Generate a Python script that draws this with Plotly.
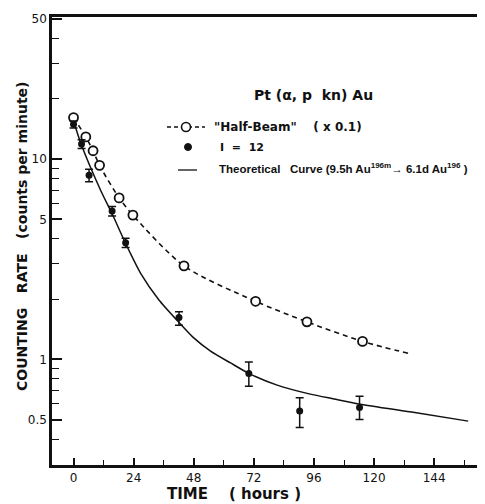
import plotly.graph_objects as go

# --- data ---------------------------------------------------------------
# "Half-Beam" (x 0.1) : open circles
half_beam_hours = [0, 4.9, 7.8, 10.4, 18.2, 23.7, 44.1, 72.7, 93.2, 115.4]
half_beam_rate = [16.1, 12.9, 11.0, 9.3, 6.4, 5.25, 2.93, 1.95, 1.54, 1.23]

# dashed curve drawn through the open circles
half_beam_fit_hours = [0, 4.9, 7.8, 10.4, 18.2, 23.7, 44.1, 72.7, 93.2, 115.4, 134]
half_beam_fit_rate = [16.1, 12.9, 11.0, 9.3, 6.4, 5.25, 2.93, 1.95, 1.54, 1.23, 1.07]

# I = 12 : filled circles with error bars
i12_hours = [0, 3.2, 6.2, 15.4, 20.8, 42.1, 70, 90.3, 114.2]
i12_rate = [14.9, 11.9, 8.3, 5.5, 3.82, 1.62, 0.85, 0.553, 0.575]
i12_err_up = [0.6, 0.6, 0.6, 0.3, 0.2, 0.11, 0.12, 0.09, 0.08]
i12_err_down = [0.6, 0.6, 0.6, 0.3, 0.2, 0.14, 0.115, 0.096, 0.074]

# theoretical curve (9.5h Au196m -> 6.1d Au196)
theory_hours = [0, 2.9, 10.9, 15.5, 20.8, 26.8, 34.1, 42.1, 48.0, 54.7, 62.7, 70,
                81.3, 94.5, 104, 114.5, 135, 157.6]
theory_rate = [15.5, 12.0, 6.95, 5.3, 3.79, 2.69, 1.98, 1.53, 1.28, 1.1, 0.96, 0.851,
               0.744, 0.671, 0.635, 0.598, 0.546, 0.492]

x_ticks = [0, 24, 48, 72, 96, 120, 144]
x_minor = [12, 36, 60, 84, 108, 132, 156]
y_ticks = [0.5, 1, 5, 10, 50]
y_tick_text = ['0.5', '1', '5', '10', '50']
y_minor = [0.4, 0.6, 0.7, 0.8, 0.9, 2, 3, 4, 6, 7, 8, 9, 20, 30, 40]

FONT = 'DejaVu Sans'
INK = '#111111'
PAGE_PAD = 8  # the page body keeps its default 8px margin

fig = go.Figure()

fig.add_trace(go.Scatter(
    x=theory_hours, y=theory_rate, mode='lines',
    line=dict(color=INK, width=1.5, shape='spline', smoothing=0.6),
    showlegend=False, hoverinfo='skip'
))

fig.add_trace(go.Scatter(
    x=half_beam_fit_hours, y=half_beam_fit_rate, mode='lines',
    line=dict(color=INK, width=1.6, dash='5px,4px', shape='spline', smoothing=0.8),
    showlegend=False, hoverinfo='skip'
))

fig.add_trace(go.Scatter(
    x=half_beam_hours, y=half_beam_rate, mode='markers',
    marker=dict(symbol='circle', size=9, color='white', line=dict(color=INK, width=1.8)),
    name='"Half-Beam" (x 0.1)', showlegend=False
))

fig.add_trace(go.Scatter(
    x=i12_hours, y=i12_rate, mode='markers',
    marker=dict(symbol='circle', size=7, color=INK),
    error_y=dict(type='data', symmetric=False, array=i12_err_up, arrayminus=i12_err_down,
                 color=INK, thickness=1.5, width=4),
    name='I = 12', showlegend=False
))

# --- in-plot legend (positions in window pixels -> paper) -------------------
def px_x(px):
    return (px - 52) / 433

def px_y(py):
    return (465 - py) / 448

shapes = [
    dict(type='line', xref='paper', yref='paper', x0=px_x(167), x1=px_x(205),
         y0=px_y(127), y1=px_y(127), line=dict(color=INK, width=1.5, dash='4px,3px')),
    dict(type='circle', xref='paper', yref='paper', xsizemode='pixel', ysizemode='pixel',
         xanchor=px_x(186), yanchor=px_y(127), x0=-4.5, x1=4.5, y0=-4.5, y1=4.5,
         fillcolor='white', line=dict(color=INK, width=1.6)),
    dict(type='circle', xref='paper', yref='paper', xsizemode='pixel', ysizemode='pixel',
         xanchor=px_x(188), yanchor=px_y(147), x0=-3.5, x1=3.5, y0=-3.5, y1=3.5,
         fillcolor=INK, line=dict(color=INK, width=1)),
    dict(type='line', xref='paper', yref='paper', x0=px_x(178), x1=px_x(197),
         y0=px_y(170), y1=px_y(170), line=dict(color=INK, width=1.3)),
]

def note(text, px, py, size, xanchor='left', family=FONT, angle=0):
    return dict(text=text, x=px_x(px), y=px_y(py), xref='paper', yref='paper',
                xanchor=xanchor, yanchor='middle', showarrow=False, textangle=angle,
                font=dict(family=family, size=size, color=INK))

annotations = [
    note('<b>Pt (α, p  kn) Au</b>', 313, 95, 14, xanchor='center'),
    note('<b>"Half-Beam"    ( x 0.1)</b>', 212, 127, 12),
    note('<b>I  =  12</b>', 218, 147, 11),
    note('<b>Theoretical   Curve (9.5h Au<sup>196m</sup>→ 6.1d Au<sup>196</sup> )</b>',
         217, 168, 11.5, family='Liberation Sans'),
    note('<b>TIME    ( hours )</b>', 234, 494, 15, xanchor='center'),
    note('<b>COUNTING   RATE   (counts per minute)</b>', 22, 237, 14,
         xanchor='center', angle=-90),
]

fig.update_layout(
    width=485 - PAGE_PAD, height=504 - PAGE_PAD,
    margin=dict(l=52 - PAGE_PAD, r=0, t=17 - PAGE_PAD, b=39),
    plot_bgcolor='white', paper_bgcolor='white',
    font=dict(family=FONT, size=12, color=INK),
    shapes=shapes, annotations=annotations,
    showlegend=False,
)

fig.update_xaxes(
    range=[-8.6, 164.3], tickmode='array', tickvals=x_ticks,
    ticks='inside', ticklen=7, tickwidth=1.5, tickcolor=INK,
    showline=True, linewidth=2.5, linecolor=INK, mirror=True,
    showgrid=False, zeroline=False, automargin=False,
    tickfont=dict(family=FONT, size=12, color=INK),
    minor=dict(tickmode='array', tickvals=x_minor, ticks='inside', ticklen=5,
               tickwidth=1.2, tickcolor=INK, showgrid=False),
)

fig.update_yaxes(
    type='log', range=[-0.527, 1.709], tickmode='array',
    tickvals=y_ticks, ticktext=y_tick_text,
    ticks='inside', ticklen=10, tickwidth=1.5, tickcolor=INK,
    showline=True, linewidth=2.5, linecolor=INK, mirror=False,
    showgrid=False, zeroline=False, automargin=False,
    tickfont=dict(family=FONT, size=12, color=INK),
    minor=dict(tickmode='array', tickvals=y_minor, ticks='inside', ticklen=7,
               tickwidth=1.2, tickcolor=INK, showgrid=False),
)

fig.write_html("out.html")
